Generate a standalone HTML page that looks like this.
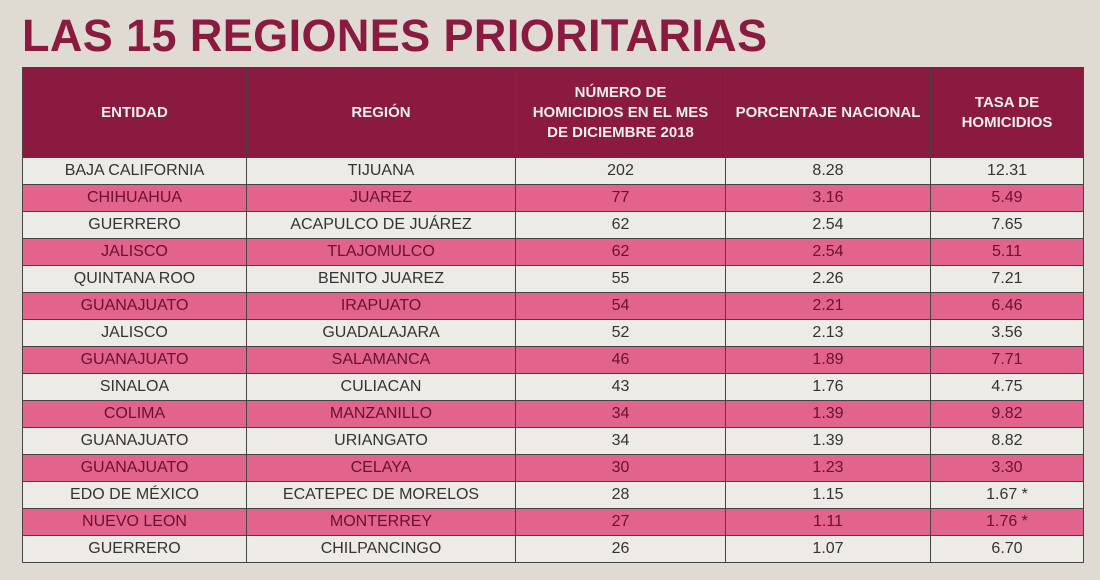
<!DOCTYPE html>
<html><head><meta charset="utf-8"><style>
html,body{margin:0;padding:0}
body{width:1100px;height:580px;background:#dfdbd3;position:relative;overflow:hidden;font-family:"Liberation Sans",sans-serif}
h1{position:absolute;left:22px;top:6px;margin:0;font-size:45px;font-weight:bold;color:#8a1a40;letter-spacing:0.4px;line-height:60px}
table{position:absolute;left:22px;top:67px;width:1061px;border-collapse:collapse;table-layout:fixed}
td,th{border:1.5px solid #444;text-align:center;padding:0;font-size:16px}
th{background:#8a1a40;color:#eee;height:89px;font-size:15px;line-height:20px;font-weight:bold}
tr.w,tr.p{height:27px}
td{height:26px;line-height:26px}
tr.w td{background:#ecebe6;color:#333}
tr.p td{background:#e2638c;color:#6a1030}
</style></head><body>
<h1>LAS 15 REGIONES PRIORITARIAS</h1>
<table>
<colgroup><col style="width:224px"><col style="width:269px"><col style="width:210px"><col style="width:205px"><col style="width:153px"></colgroup>
<tr><th>ENTIDAD</th><th>REGIÓN</th><th>NÚMERO DE<br>HOMICIDIOS EN EL MES<br>DE DICIEMBRE 2018</th><th>PORCENTAJE NACIONAL</th><th>TASA DE<br>HOMICIDIOS</th></tr>
<tr class="w"><td>BAJA CALIFORNIA</td><td>TIJUANA</td><td>202</td><td>8.28</td><td>12.31</td></tr>
<tr class="p"><td>CHIHUAHUA</td><td>JUAREZ</td><td>77</td><td>3.16</td><td>5.49</td></tr>
<tr class="w"><td>GUERRERO</td><td>ACAPULCO DE JUÁREZ</td><td>62</td><td>2.54</td><td>7.65</td></tr>
<tr class="p"><td>JALISCO</td><td>TLAJOMULCO</td><td>62</td><td>2.54</td><td>5.11</td></tr>
<tr class="w"><td>QUINTANA ROO</td><td>BENITO JUAREZ</td><td>55</td><td>2.26</td><td>7.21</td></tr>
<tr class="p"><td>GUANAJUATO</td><td>IRAPUATO</td><td>54</td><td>2.21</td><td>6.46</td></tr>
<tr class="w"><td>JALISCO</td><td>GUADALAJARA</td><td>52</td><td>2.13</td><td>3.56</td></tr>
<tr class="p"><td>GUANAJUATO</td><td>SALAMANCA</td><td>46</td><td>1.89</td><td>7.71</td></tr>
<tr class="w"><td>SINALOA</td><td>CULIACAN</td><td>43</td><td>1.76</td><td>4.75</td></tr>
<tr class="p"><td>COLIMA</td><td>MANZANILLO</td><td>34</td><td>1.39</td><td>9.82</td></tr>
<tr class="w"><td>GUANAJUATO</td><td>URIANGATO</td><td>34</td><td>1.39</td><td>8.82</td></tr>
<tr class="p"><td>GUANAJUATO</td><td>CELAYA</td><td>30</td><td>1.23</td><td>3.30</td></tr>
<tr class="w"><td>EDO DE MÉXICO</td><td>ECATEPEC DE MORELOS</td><td>28</td><td>1.15</td><td>1.67 *</td></tr>
<tr class="p"><td>NUEVO LEON</td><td>MONTERREY</td><td>27</td><td>1.11</td><td>1.76 *</td></tr>
<tr class="w"><td>GUERRERO</td><td>CHILPANCINGO</td><td>26</td><td>1.07</td><td>6.70</td></tr>
</table>
</body></html>
